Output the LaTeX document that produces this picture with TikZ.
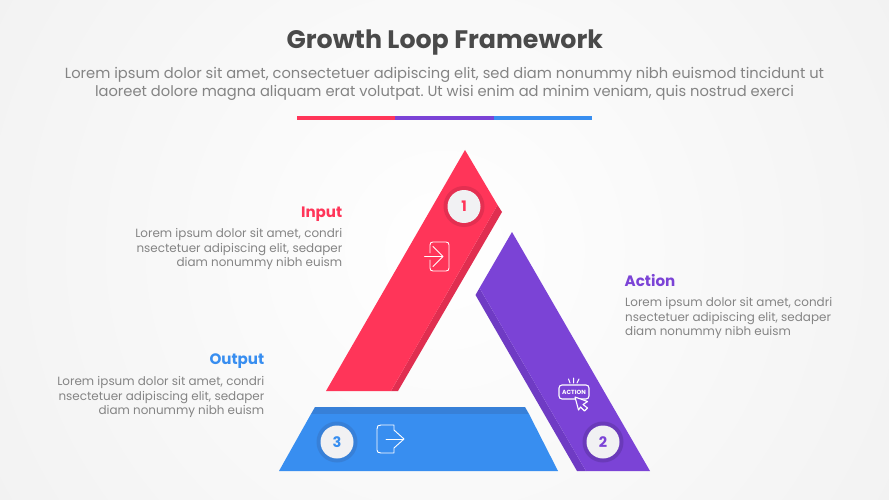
\documentclass[tikz,border=0pt]{standalone}
\usepackage{fontspec}
\setmainfont{Poppins}
\usetikzlibrary{shapes.geometric}
\definecolor{cred}{HTML}{FF3559}
\definecolor{credd}{HTML}{E02E50}
\definecolor{credh}{HTML}{E42F51}
\definecolor{cpur}{HTML}{7B43D6}
\definecolor{cpurd}{HTML}{6F3BC4}
\definecolor{cpurh}{HTML}{6A3ABA}
\definecolor{cblu}{HTML}{388EF0}
\definecolor{cblud}{HTML}{3780D8}
\definecolor{ctxt}{HTML}{848484}
\definecolor{ctitle}{HTML}{4A4A4A}
\definecolor{cdisc}{HTML}{F1F1F3}
\tikzset{
  body/.style={inner sep=0pt,text=ctxt,font=\fontsize{11.95}{14.6}\selectfont\frenchspacing},
  head/.style={inner sep=0pt,font=\fontsize{15.1}{18}\selectfont\bfseries},
  halo/.style={circle,minimum size=41pt,inner sep=0pt},
  disc/.style={circle,fill=cdisc,minimum size=33pt,inner sep=0pt,font=\fontsize{14.5}{16}\selectfont\bfseries},
  icon/.style={draw=white,line width=0.9pt,line join=round,line cap=round}
}
\begin{document}
\begin{tikzpicture}[x=1pt,y=-1pt]
\useasboundingbox (0,0) rectangle (889,500);
\fill[white] (0,0) rectangle (889,500);
\shade[inner color=white,outer color=white!94.5!black,shading=radial] (444.5,250) circle (560);
% title
\node[font=\fontsize{25.3}{30}\selectfont\bfseries,text=ctitle,inner sep=0pt] (title) at (444.8,42.3) {Growth Loop Framework};
\node[body,font=\fontsize{14.69}{18}\selectfont\frenchspacing,align=center] (sub) at (444.5,84) {Lorem ipsum dolor sit amet, consectetuer adipiscing elit, sed diam nonummy nibh euismod tincidunt ut\\laoreet dolore magna aliquam erat volutpat. Ut wisi enim ad minim veniam, quis nostrud exerci};
% bar
\fill[cred] (296.5,116.3) rectangle (395,120);
\fill[cpur] (395,116.3) rectangle (493.5,120);
\fill[cblu] (493.5,116.3) rectangle (592,120);
% red
\fill[credd] (497.5,205) -- (502,212) -- (398,391) -- (391,391) -- cycle;
\fill[cred] (465,150) -- (497.5,205) -- (391,391) -- (326,391) -- cycle;
% purple
\fill[cpurd] (475.5,295) -- (479.5,288) -- (586,471) -- (577,471) -- cycle;
\fill[cpur] (512,232) -- (650,471) -- (586,471) -- (479.5,288) -- cycle;
% blue
\fill[cblud] (315,407) -- (525,407) -- (529,414) -- (311,414) -- cycle;
\fill[cblu] (311,414) -- (529,414) -- (558,471) -- (279,471) -- cycle;
% badges
\node[halo,fill=credh] (h1) at (464,206.5) {};
\node[disc,text=cred] (d1) at (h1) {1};
\node[halo,fill=cpurh] (h2) at (603,442) {};
\node[disc,text=cpur] (d2) at (h2) {2};
\node[halo,fill=cblud] (h3) at (337,442) {};
\node[disc,text=cblu] (d3) at (h3) {3};
% input icon
\draw[icon] (430,253) -- (430,245) .. controls (430,243) and (431,242) .. (433,242) -- (446,242) .. controls (448,242) and (449,243) .. (449,245) -- (449,268) .. controls (449,270) and (448,271) .. (446,271) -- (433,271) .. controls (431,271) and (430,270) .. (430,268) -- (430,260);
\draw[icon] (424.5,256.5) -- (442.5,256.5) (433,246.5) -- (443,256.5) -- (433,266.5);
% output icon
\draw[icon] (394,430) -- (394,425) -- (381,425) .. controls (378,425) and (377,426) .. (377,429) -- (377,450) .. controls (377,452) and (378,453) .. (381,453) -- (394,453) -- (394,448) -- (404,439) -- (394,430);
\draw[icon] (386,439) -- (403.5,439);
% action icon
\draw[white,line width=1.1pt,rounded corners=3pt] (559,385) rectangle (589,399);
\node[text=white,inner sep=0pt,font=\fontsize{6}{7}\selectfont\bfseries] (act) at (574,392) {ACTION};
\draw[icon,line width=1.1pt,fill=cpur] (575,397) -- (587.5,401.5) -- (583,404.5) -- (587.5,408) -- (584.5,411) -- (580.5,407) -- (578.5,410) -- cycle;
\draw[icon,line width=1pt] (568.5,379) -- (570,383) (573.5,378) -- (573.5,383) (579,379) -- (577,383);
% labels
\node[head,text=cred,anchor=base east] (l1) at (342.5,217) {Input};
\node[body,anchor=north east,align=right] (t1) at (342.5,228.5) {Lorem ipsum dolor sit amet, condri\\nsectetuer adipiscing elit, sedaper\\diam nonummy nibh euism};
\node[head,text=cpur,anchor=base west] (l2) at (624.5,286.5) {Action};
\node[body,anchor=north west,align=left] (t2) at (625,297.5) {Lorem ipsum dolor sit amet, condri\\nsectetuer adipiscing elit, sedaper\\diam nonummy nibh euism};
\node[head,text=cblu,anchor=base east] (l3) at (264.5,364.5) {Output};
\node[body,anchor=north east,align=right] (t3) at (264.5,376.5) {Lorem ipsum dolor sit amet, condri\\nsectetuer adipiscing elit, sedaper\\diam nonummy nibh euism};
\end{tikzpicture}
\end{document}
